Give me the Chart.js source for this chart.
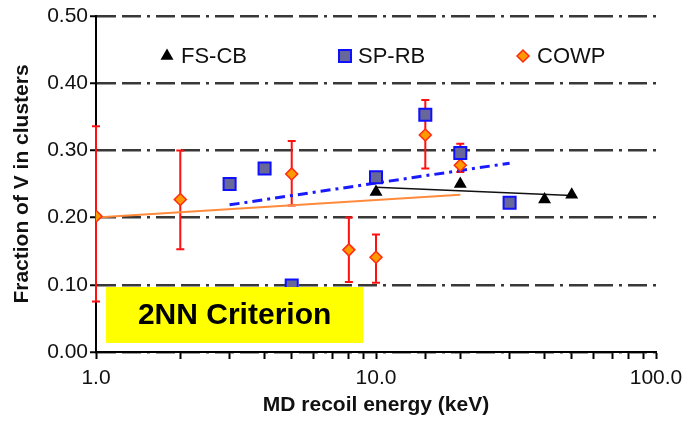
<!DOCTYPE html>
<html>
<head>
<meta charset="utf-8">
<script src="https://cdn.jsdelivr.net/npm/chart.js@4.4.1/dist/chart.umd.min.js"></script>
<style>
  html, body { margin: 0; padding: 0; background: #ffffff; }
  #wrap { width: 684px; height: 424px; }
</style>
</head>
<body>
<div id="wrap"><canvas id="fractionChart" width="684" height="424"></canvas></div>
<script>
// FS-CB
const fsEnergy = [10, 20, 40, 50];
const fsFraction = [0.238, 0.250, 0.227, 0.234];
const fsTrendEnergy = [10, 50];
const fsTrendFraction = [0.245, 0.233];

// SP-RB
const spEnergy = [3, 4, 5, 10, 15, 20, 30];
const spFraction = [0.250, 0.273, 0.099, 0.260, 0.353, 0.296, 0.222];
const spTrendEnergy = [3, 30];
const spTrendFraction = [0.219, 0.281];

// COWP (with error bars)
const cowpEnergy = [1, 2, 5, 8, 10, 15, 20];
const cowpFraction = [0.202, 0.227, 0.265, 0.152, 0.141, 0.323, 0.278];
const cowpLow = [0.075, 0.153, 0.218, 0.104, 0.103, 0.273, 0.268];
const cowpHigh = [0.336, 0.300, 0.314, 0.200, 0.175, 0.375, 0.310];
const cowpTrendEnergy = [1, 20];
const cowpTrendFraction = [0.200, 0.234];

const xTickLabels = [1, 10, 100];
const yTicks = [0, 0.1, 0.2, 0.3, 0.4, 0.5];

const FONT = "'Liberation Sans', Arial, Helvetica, sans-serif";

function toPoints(xs, ys) {
  return xs.map((x, i) => ({ x: x, y: ys[i] }));
}

const errorBarPlugin = {
  id: "errorBars",
  beforeDatasetsDraw(chart) {
    const { ctx, scales: { x, y } } = chart;
    ctx.save();
    ctx.strokeStyle = "#ff1010";
    ctx.lineWidth = 2;
    cowpEnergy.forEach((e, i) => {
      const px = x.getPixelForValue(e);
      const top = y.getPixelForValue(cowpHigh[i]);
      const bottom = y.getPixelForValue(cowpLow[i]);
      ctx.beginPath();
      ctx.moveTo(px, top);
      ctx.lineTo(px, bottom);
      ctx.moveTo(px - 4, top);
      ctx.lineTo(px + 4, top);
      ctx.moveTo(px - 4, bottom);
      ctx.lineTo(px + 4, bottom);
      ctx.stroke();
    });
    ctx.restore();
  }
};

// yellow "2NN Criterion" note, anchored to data coordinates
const noteBox = { xMin: 1.086, xMax: 9.0, yMin: 0.0135, yMax: 0.0967, text: "2NN Criterion" };

const notePlugin = {
  id: "noteBox",
  afterDatasetsDraw(chart) {
    const { ctx, scales: { x, y } } = chart;
    const left = x.getPixelForValue(noteBox.xMin);
    const right = x.getPixelForValue(noteBox.xMax);
    const top = y.getPixelForValue(noteBox.yMax);
    const bottom = y.getPixelForValue(noteBox.yMin);
    ctx.save();
    ctx.fillStyle = "#ffff00";
    ctx.fillRect(left, top, right - left, bottom - top);
    ctx.fillStyle = "#000000";
    ctx.font = "bold 30px " + FONT;
    ctx.textAlign = "center";
    ctx.textBaseline = "middle";
    ctx.fillText(noteBox.text, (left + right) / 2, (top + bottom) / 2 + 1);
    ctx.restore();
  }
};

const legendItems = [
  { label: "FS-CB", style: "triangle", radius: 7.5, fill: "#000000", stroke: "#000000", border: 0, mx: 167, tx: 181 },
  { label: "SP-RB", style: "rect", radius: 8.5, fill: "#67679a", stroke: "#1010ff", border: 2, mx: 345, tx: 358 },
  { label: "COWP", style: "rectRot", radius: 6, fill: "#ff9900", stroke: "#ff2a10", border: 1.5, mx: 523, tx: 537 }
];

const legendPlugin = {
  id: "insideLegend",
  afterDraw(chart) {
    const { ctx } = chart;
    const ly = 56;
    ctx.save();
    legendItems.forEach((item) => {
      ctx.fillStyle = item.fill;
      ctx.strokeStyle = item.stroke;
      ctx.lineWidth = item.border;
      Chart.helpers.drawPoint(ctx, {
        pointStyle: item.style,
        radius: item.radius,
        rotation: 0,
        borderWidth: item.border
      }, item.mx, ly);
      ctx.fillStyle = "#111111";
      ctx.font = "22px " + FONT;
      ctx.textAlign = "left";
      ctx.textBaseline = "middle";
      ctx.fillText(item.label, item.tx, ly + 1);
    });
    ctx.restore();
  }
};

function buildChart() {
  const canvas = document.getElementById("fractionChart");
  if (!canvas || typeof Chart === "undefined") return;

  Chart.defaults.font.family = FONT;
  Chart.defaults.color = "#111111";

  new Chart(canvas, {
    type: "scatter",
    data: {
      datasets: [
        {
          label: "SP-RB",
          data: toPoints(spEnergy, spFraction),
          pointStyle: "rect",
          pointRadius: 8.5,
          pointBackgroundColor: "#67679a",
          pointBorderColor: "#1010ff",
          pointBorderWidth: 2
        },
        {
          label: "FS-CB",
          data: toPoints(fsEnergy, fsFraction),
          pointStyle: "triangle",
          pointRadius: 7.5,
          pointBackgroundColor: "#000000",
          pointBorderColor: "#000000",
          pointBorderWidth: 0
        },
        {
          label: "COWP",
          data: toPoints(cowpEnergy, cowpFraction),
          pointStyle: "rectRot",
          pointRadius: 6,
          pointBackgroundColor: "#ff9900",
          pointBorderColor: "#ff2a10",
          pointBorderWidth: 1.5
        },
        {
          label: "SP-RB fit",
          type: "line",
          data: toPoints(spTrendEnergy, spTrendFraction),
          borderColor: "#1a1aff",
          borderWidth: 3,
          borderDash: [10, 5, 3, 5],
          pointRadius: 0,
          fill: false
        },
        {
          label: "FS-CB fit",
          type: "line",
          data: toPoints(fsTrendEnergy, fsTrendFraction),
          borderColor: "#111111",
          borderWidth: 1.5,
          pointRadius: 0,
          fill: false
        },
        {
          label: "COWP fit",
          type: "line",
          data: toPoints(cowpTrendEnergy, cowpTrendFraction),
          borderColor: "#ff8a3c",
          borderWidth: 2,
          pointRadius: 0,
          fill: false
        }
      ]
    },
    options: {
      responsive: false,
      animation: false,
      layout: {
        padding: { top: 16, right: 28, left: 0, bottom: 0 }
      },
      plugins: {
        legend: { display: false },
        tooltip: { enabled: false }
      },
      scales: {
        x: {
          type: "logarithmic",
          min: 1,
          max: 100,
          afterFit: function (scale) {
            scale.height = 72;
            scale.paddingRight = 28;
          },
          title: {
            display: true,
            text: "MD recoil energy (keV)",
            font: { size: 21, weight: "bold" },
            color: "#111111",
            padding: { top: 0, bottom: 6 }
          },
          ticks: {
            autoSkip: false,
            maxRotation: 0,
            padding: 7,
            font: { size: 21 },
            color: "#111111",
            callback: function (value) {
              return xTickLabels.includes(value) ? value.toFixed(1) : "";
            }
          },
          grid: {
            display: true,
            drawOnChartArea: false,
            drawTicks: true,
            tickLength: 7,
            tickWidth: 2,
            tickColor: "#000000",
            color: "#000000"
          },
          border: { display: true, color: "#000000", width: 2 }
        },
        y: {
          min: 0,
          max: 0.5,
          afterFit: function (scale) {
            scale.width = 96;
          },
          afterBuildTicks: function (scale) {
            scale.ticks = yTicks.map((v) => ({ value: v }));
          },
          title: {
            display: true,
            text: "Fraction of V in clusters",
            font: { size: 21, weight: "bold" },
            color: "#111111",
            padding: { top: 10, bottom: 0 }
          },
          ticks: {
            padding: 2,
            font: { size: 21 },
            color: "#111111",
            callback: function (value) {
              return Number(value).toFixed(2);
            }
          },
          grid: {
            color: "#383838",
            lineWidth: 2.5,
            drawTicks: true,
            tickLength: 6,
            tickWidth: 2,
            tickColor: "#000000"
          },
          border: { display: true, color: "#000000", width: 2, dash: [19, 6, 19, 6, 3, 6] }
        }
      }
    },
    plugins: [errorBarPlugin, notePlugin, legendPlugin]
  });
}

document.addEventListener("DOMContentLoaded", buildChart);
</script>
</body>
</html>
